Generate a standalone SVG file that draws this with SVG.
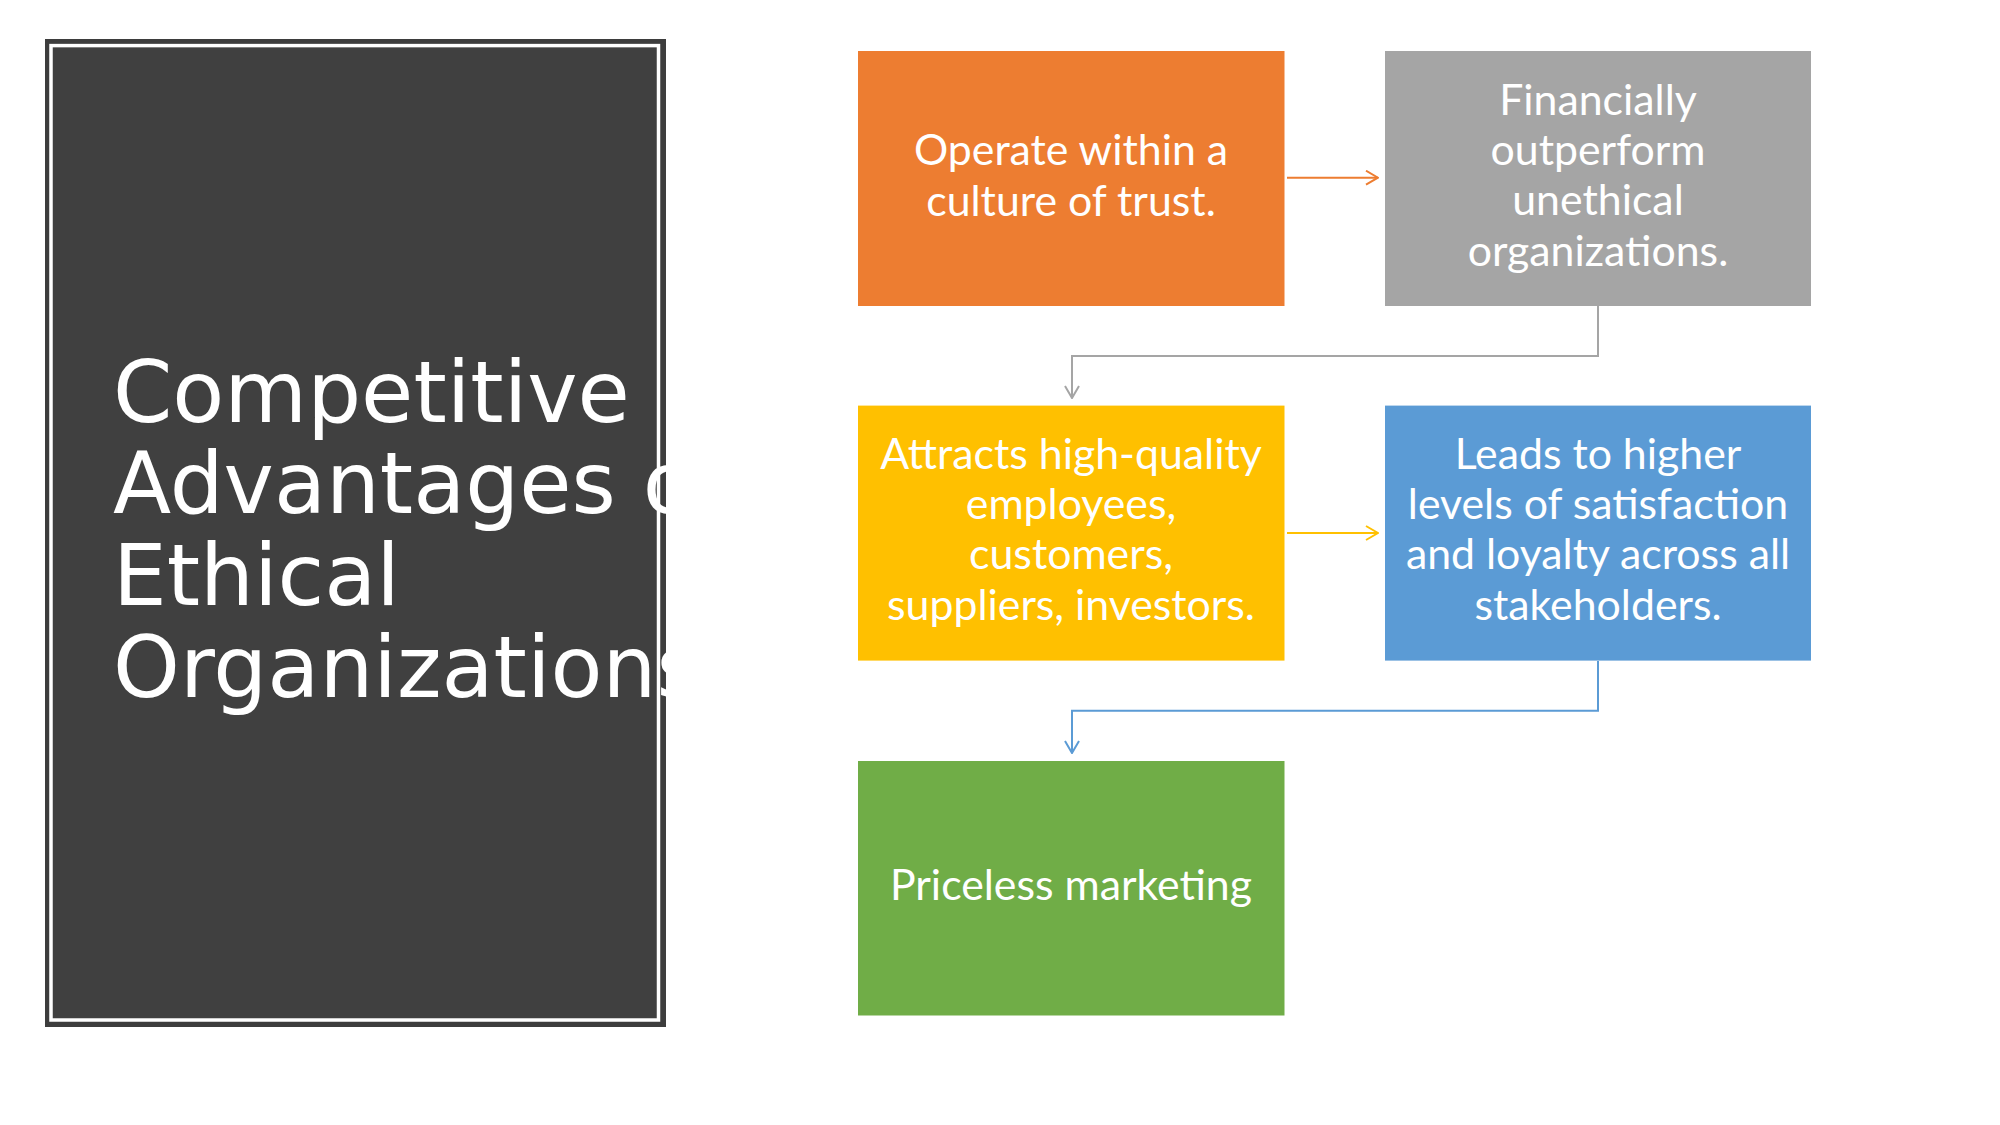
<svg xmlns="http://www.w3.org/2000/svg" width="2000" height="1125" viewBox="0 0 2000 1125">
<style>
.box text{font-family:Lato,"Liberation Sans",sans-serif;font-size:42.8px;fill:#ffffff;text-anchor:middle}
.title{font-family:"DejaVu Sans",sans-serif;font-size:85px;fill:#ffffff}
.conn{fill:none;stroke-width:2}
</style>
<defs>
<clipPath id="panelClip"><rect x="45" y="39" width="621.5" height="988"/></clipPath>
<marker id="ahO" viewBox="0 0 14 16" refX="13" refY="8" markerWidth="14" markerHeight="16" markerUnits="userSpaceOnUse" orient="auto"><path d="M1,1 L13,8 L1,15" fill="none" stroke="#ED7D31" stroke-width="2"/></marker>
<marker id="ahG" viewBox="0 0 14 16" refX="13" refY="8" markerWidth="14" markerHeight="16" markerUnits="userSpaceOnUse" orient="auto"><path d="M1,1 L13,8 L1,15" fill="none" stroke="#A5A5A5" stroke-width="2"/></marker>
<marker id="ahY" viewBox="0 0 14 16" refX="13" refY="8" markerWidth="14" markerHeight="16" markerUnits="userSpaceOnUse" orient="auto"><path d="M1,1 L13,8 L1,15" fill="none" stroke="#FFC000" stroke-width="2"/></marker>
<marker id="ahB" viewBox="0 0 14 16" refX="13" refY="8" markerWidth="14" markerHeight="16" markerUnits="userSpaceOnUse" orient="auto"><path d="M1,1 L13,8 L1,15" fill="none" stroke="#5B9BD5" stroke-width="2"/></marker>
</defs>
<rect width="2000" height="1125" fill="#ffffff"/>
<g id="title-panel">
<rect x="45" y="39" width="621" height="988" fill="#3d3d3d"/>
<rect x="53" y="47.5" width="604" height="971" fill="#404040"/>
<rect x="51" y="45.6" width="607.5" height="974.4" fill="none" stroke="#ffffff" stroke-width="3.5"/>
<g clip-path="url(#panelClip)">
<text class="title" x="113" y="421.5">Competitive<tspan x="113" dy="91.9">Advantages of</tspan><tspan x="113" dy="91.9">Ethical</tspan><tspan x="113" dy="91.9">Organizations</tspan></text>
</g>
</g>
<g id="connectors">
<line class="conn" x1="1287" y1="177.7" x2="1378" y2="177.7" stroke="#ED7D31" marker-end="url(#ahO)"/>
<polyline class="conn" points="1598,306 1598,356 1072,356 1072,398" stroke="#A5A5A5" marker-end="url(#ahG)"/>
<line class="conn" x1="1287" y1="533" x2="1378" y2="533" stroke="#FFC000" marker-end="url(#ahY)"/>
<polyline class="conn" points="1598,661 1598,710.7 1072,710.7 1072,753" stroke="#5B9BD5" marker-end="url(#ahB)"/>
</g>
<g id="node-trust" class="box">
<rect x="858" y="51" width="426.5" height="255" fill="#ED7D31"/>
<text x="1071" y="165.3">Operate within a<tspan x="1071" dy="50.2">culture of trust.</tspan></text>
</g>
<g id="node-outperform" class="box">
<rect x="1385" y="51" width="426" height="255" fill="#A5A5A5"/>
<text x="1598" y="115">Financially<tspan x="1598" dy="50.2">outperform</tspan><tspan x="1598" dy="50.2">unethical</tspan><tspan x="1598" dy="50.2">organizations.</tspan></text>
</g>
<g id="node-attracts" class="box">
<rect x="858" y="405.6" width="426.5" height="255" fill="#FFC000"/>
<text x="1071" y="469">Attracts high-quality<tspan x="1071" dy="50.2">employees,</tspan><tspan x="1071" dy="50.2">customers,</tspan><tspan x="1071" dy="50.2">suppliers, investors.</tspan></text>
</g>
<g id="node-loyalty" class="box">
<rect x="1385" y="405.6" width="426" height="255" fill="#5B9BD5"/>
<text x="1598" y="469">Leads to higher<tspan x="1598" dy="50.2">levels of satisfaction</tspan><tspan x="1598" dy="50.2">and loyalty across all</tspan><tspan x="1598" dy="50.2">stakeholders.</tspan></text>
</g>
<g id="node-marketing" class="box">
<rect x="858" y="761" width="426.5" height="254.5" fill="#70AD47"/>
<text x="1071" y="900">Priceless marketing</text>
</g>
</svg>
